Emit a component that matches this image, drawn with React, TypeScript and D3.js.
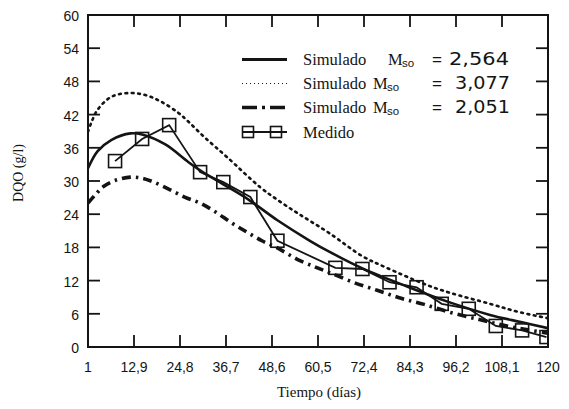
import React from "react";
import * as d3 from "d3";

const W = 569;
const H = 409;

const xTicks = [1, 12.9, 24.8, 36.7, 48.6, 60.5, 72.4, 84.3, 96.2, 108.1, 120];
const yTicks = [0, 6, 12, 18, 24, 30, 36, 42, 48, 54, 60];

// Simulado Mso = 2,564 (solid)
const sim2564Days = [1, 3.5, 7, 12, 15, 21, 27, 30.5, 36, 42.6, 50, 58.4, 64, 72, 84, 94, 105, 113, 120];
const sim2564Vals = [32.3, 35.4, 37.4, 38.6, 38.4, 36.6, 33.4, 31.7, 29.4, 26.6, 22.9, 19.2, 17.0, 14.2, 10.8, 8.2, 5.8, 4.5, 3.4];

// Simulado Mso = 3,077 (dotted)
const sim3077Days = [1, 2, 3.5, 7, 11.5, 16, 20, 24.4, 27, 31, 37, 45.5, 50, 54.5, 58.4, 63.6, 72, 78, 88.7, 94.6, 105, 112, 120];
const sim3077Vals = [38.9, 40.8, 42.9, 45.2, 45.9, 45.5, 44.3, 42.3, 40.7, 38.0, 34.3, 28.9, 26.6, 24.5, 22.8, 20.5, 16.4, 14.4, 11.2, 9.8, 7.8, 6.4, 5.2];

// Simulado Mso = 2,051 (dash-dot)
const sim2051Days = [1, 3, 5, 8, 12, 15, 18, 22, 26, 30, 34, 38, 42, 46, 50, 55, 60, 64, 70, 76, 82, 88, 95, 102, 108, 114, 120];
const sim2051Vals = [26.0, 27.6, 29.0, 30.1, 30.7, 30.5, 29.8, 28.5, 27.1, 26.0, 24.4, 22.5, 20.8, 19.2, 17.9, 15.9, 14.4, 13.3, 11.6, 10.2, 8.8, 7.7, 6.2, 5.0, 4.0, 3.2, 2.5];

// Medido (squares)
const medDays = [8, 15, 22, 30, 36, 43, 50, 65, 72, 79, 86, 92.5, 99.5, 106.5, 113.3, 119.6];
const medVals = [33.6, 37.6, 40.1, 31.6, 29.8, 27.1, 19.2, 14.3, 14.1, 11.7, 10.8, 7.8, 6.9, 3.8, 3.0, 1.8];

const legendLabels = ["Simulado", "Simulado", "Simulado", "Medido"];
const legendValues = ["2,564", "3,077", "2,051"];

const INK = "#141414";

export default function App() {
  const left = 88, right = 548, top = 15, bottom = 347;
  const x = d3.scaleLinear().domain([1, 120]).range([left, right]);
  const y = d3.scaleLinear().domain([0, 60]).range([bottom, top]);

  const mk = (ds: number[], vs: number[]) => ds.map((d, i) => [d, vs[i]] as [number, number]);
  const smooth = d3
    .line<[number, number]>()
    .x((d) => x(d[0]))
    .y((d) => y(d[1]))
    .curve(d3.curveCatmullRom.alpha(0.5));
  const straight = d3
    .line<[number, number]>()
    .x((d) => x(d[0]))
    .y((d) => y(d[1]));

  const s1 = mk(sim2564Days, sim2564Vals);
  const s2 = mk(sim3077Days, sim3077Vals);
  const s3 = mk(sim2051Days, sim2051Vals);
  const med = mk(medDays, medVals);

  const fmt = (v: number) => String(v).replace(".", ",");
  const tickLen = 12;
  const sans = "'Liberation Sans', Arial, sans-serif";
  const wide = "'DejaVu Sans', 'Liberation Sans', sans-serif";
  const serif = "'Liberation Serif', 'Times New Roman', serif";

  const rowBase = [65, 89, 113, 138];
  const mX = [388, 373, 373];
  const lx0 = 242, lx1 = 287;

  return (
    <svg
      width={W}
      height={H}
      viewBox={`0 0 ${W} ${H}`}
      style={{ position: "absolute", left: 0, top: 0, background: "#fff" }}
    >
      <defs>
        <clipPath id="plot">
          <rect x={left} y={top} width={right - left} height={bottom - top} />
        </clipPath>
      </defs>
      <rect x={0} y={0} width={W} height={H} fill="#fff" />

      {/* series */}
      <g clipPath="url(#plot)" fill="none" stroke={INK}>
        <path d={smooth(s2) || ""} strokeWidth={2.6} strokeDasharray="1.8 4.6" strokeLinecap="round" />
        <path d={smooth(s3) || ""} strokeWidth={3.6} strokeDasharray="9 5 2.5 5" />
        <path d={smooth(s1) || ""} strokeWidth={2.6} />
        <path d={straight(med) || ""} strokeWidth={1.8} />
        {med.map((p, i) => (
          <rect key={i} x={x(p[0]) - 6.5} y={y(p[1]) - 6.5} width={13} height={13} strokeWidth={1.6} />
        ))}
      </g>

      {/* frame */}
      <rect x={left} y={top} width={right - left} height={bottom - top} fill="none" stroke={INK} strokeWidth={2} />

      {/* ticks */}
      <g stroke={INK} strokeWidth={1.8}>
        {xTicks.slice(1, -1).map((t, i) => (
          <g key={"xt" + i}>
            <line x1={x(t)} x2={x(t)} y1={bottom} y2={bottom - tickLen} />
            <line x1={x(t)} x2={x(t)} y1={top} y2={top + tickLen} />
          </g>
        ))}
        {yTicks.slice(1, -1).map((t, i) => (
          <g key={"yt" + i}>
            <line x1={left} x2={left + tickLen} y1={y(t)} y2={y(t)} />
            <line x1={right} x2={right - tickLen} y1={y(t)} y2={y(t)} />
          </g>
        ))}
      </g>

      {/* tick labels */}
      <g fontFamily={sans} fontSize={14} fill={INK}>
        {xTicks.map((t, i) => (
          <text key={"xl" + i} x={x(t)} y={372} textAnchor="middle">
            {fmt(t)}
          </text>
        ))}
        {yTicks.map((t, i) => (
          <text key={"yl" + i} x={79} y={y(t) + 6} textAnchor="end">
            {fmt(t)}
          </text>
        ))}
      </g>

      {/* axis titles */}
      <text x={319} y={397} textAnchor="middle" fontFamily={serif} fontSize={15} fill={INK}>
        Tiempo (días)
      </text>
      <text
        transform="translate(23,173) rotate(-90)"
        textAnchor="middle"
        fontFamily={serif}
        fontSize={14}
        fill={INK}
      >
        DQO (g/l)
      </text>

      {/* legend */}
      <g fill="none" stroke={INK}>
        <line x1={lx0} x2={lx1} y1={rowBase[0] - 5.5} y2={rowBase[0] - 5.5} strokeWidth={3} />
        <line x1={lx0} x2={lx1} y1={rowBase[1] - 5.5} y2={rowBase[1] - 5.5} strokeWidth={1.2} strokeDasharray="1 3" />
        <line x1={lx0} x2={lx1} y1={rowBase[2] - 5.5} y2={rowBase[2] - 5.5} strokeWidth={3.6} strokeDasharray="15 5 3 5" />
        <line x1={lx0} x2={lx1} y1={rowBase[3] - 6} y2={rowBase[3] - 6} strokeWidth={1.8} />
        <rect x={242.5} y={rowBase[3] - 11.5} width={11} height={11} strokeWidth={1.6} />
        <rect x={270.5} y={rowBase[3] - 11.5} width={11} height={11} strokeWidth={1.6} />
      </g>
      <g fill={INK}>
        {legendLabels.map((l, i) => (
          <text key={"ll" + i} x={303} y={rowBase[i]} fontFamily={serif} fontSize={16.5}>
            {l}
          </text>
        ))}
        {legendValues.map((v, i) => (
          <g key={"lv" + i}>
            <text x={mX[i]} y={rowBase[i]} fontFamily={serif} fontSize={16.5}>
              M
            </text>
            <text x={mX[i] + 14} y={rowBase[i] + 2} fontFamily={sans} fontSize={11.5}>
              so
            </text>
            <text x={432} y={rowBase[i]} fontFamily={sans} fontSize={17}>
              =
            </text>
            <text
              x={i === 0 ? 449 : 455}
              y={rowBase[i]}
              fontFamily={wide}
              fontSize={17.5}
              textLength={i === 0 ? 60 : 55}
              lengthAdjust="spacingAndGlyphs"
            >
              {v}
            </text>
          </g>
        ))}
      </g>
    </svg>
  );
}
